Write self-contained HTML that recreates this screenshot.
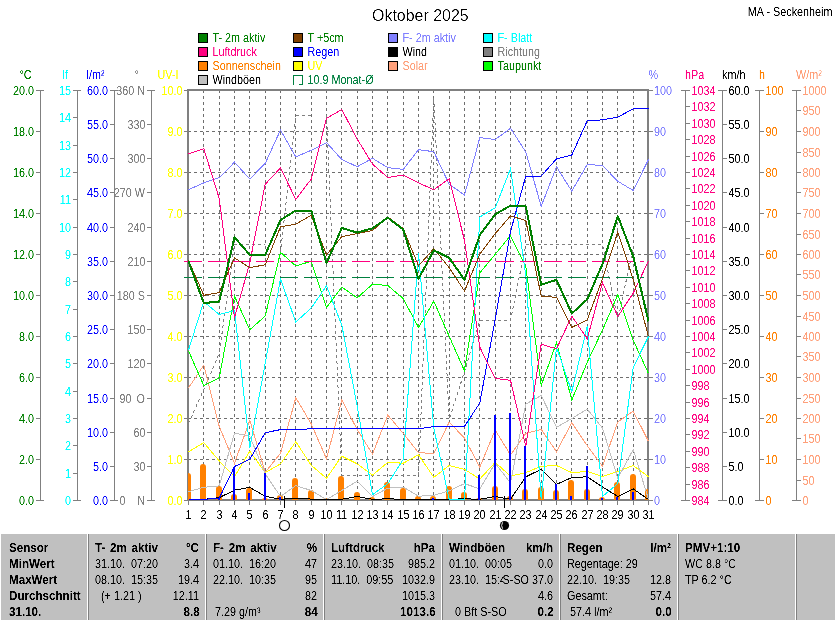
<!DOCTYPE html>
<html lang="de"><head><meta charset="utf-8"><title>Oktober 2025 - MA-Seckenheim</title>
<style>html,body{margin:0;padding:0;background:#fff;overflow:hidden}body{width:835px;height:620px;font-family:"Liberation Sans",sans-serif}svg text{font-family:"Liberation Sans",sans-serif;white-space:pre}</style>
</head><body>
<svg width="835" height="620" viewBox="0 0 835 620" font-family="'Liberation Sans', sans-serif" style="display:block">
<rect x="0" y="0" width="835" height="620" fill="#fff"/>
<rect x="198" y="33" width="10" height="10" fill="#000"/>
<rect x="199" y="34" width="8" height="8" fill="#008000"/>
<rect x="198" y="47" width="10" height="10" fill="#000"/>
<rect x="199" y="48" width="8" height="8" fill="#ff0080"/>
<rect x="198" y="61" width="10" height="10" fill="#000"/>
<rect x="199" y="62" width="8" height="8" fill="#ff8000"/>
<rect x="198" y="75" width="10" height="10" fill="#000"/>
<rect x="199" y="76" width="8" height="8" fill="#c0c0c0"/>
<rect x="293" y="33" width="10" height="10" fill="#000"/>
<rect x="294" y="34" width="8" height="8" fill="#804000"/>
<rect x="293" y="47" width="10" height="10" fill="#000"/>
<rect x="294" y="48" width="8" height="8" fill="#0000ff"/>
<rect x="293" y="61" width="10" height="10" fill="#000"/>
<rect x="294" y="62" width="8" height="8" fill="#ffff00"/>
<rect x="388" y="33" width="10" height="10" fill="#000"/>
<rect x="389" y="34" width="8" height="8" fill="#8080ff"/>
<rect x="388" y="47" width="10" height="10" fill="#000"/>
<rect x="389" y="48" width="8" height="8" fill="#000000"/>
<rect x="388" y="61" width="10" height="10" fill="#000"/>
<rect x="389" y="62" width="8" height="8" fill="#ffa07a"/>
<rect x="483" y="33" width="10" height="10" fill="#000"/>
<rect x="484" y="34" width="8" height="8" fill="#00ffff"/>
<rect x="483" y="47" width="10" height="10" fill="#000"/>
<rect x="484" y="48" width="8" height="8" fill="#808080"/>
<rect x="483" y="61" width="10" height="10" fill="#000"/>
<rect x="484" y="62" width="8" height="8" fill="#00ff00"/>
<rect x="293" y="75" width="10" height="1" fill="#008040"/>
<rect x="293" y="75" width="1" height="10" fill="#008040"/>
<rect x="302" y="75" width="1" height="10" fill="#008040"/>
<rect x="299" y="84" width="4" height="1" fill="#008040"/>
<rect x="40" y="90" width="1" height="411" fill="#808080"/>
<rect x="36" y="500" width="4" height="1" fill="#808080"/>
<rect x="36" y="459" width="4" height="1" fill="#808080"/>
<rect x="36" y="418" width="4" height="1" fill="#808080"/>
<rect x="36" y="377" width="4" height="1" fill="#808080"/>
<rect x="36" y="336" width="4" height="1" fill="#808080"/>
<rect x="36" y="295" width="4" height="1" fill="#808080"/>
<rect x="36" y="254" width="4" height="1" fill="#808080"/>
<rect x="36" y="213" width="4" height="1" fill="#808080"/>
<rect x="36" y="172" width="4" height="1" fill="#808080"/>
<rect x="36" y="131" width="4" height="1" fill="#808080"/>
<rect x="36" y="90" width="4" height="1" fill="#808080"/>
<rect x="36" y="90" width="8" height="1" fill="#808080"/>
<rect x="36" y="500" width="8" height="1" fill="#808080"/>
<rect x="77" y="90" width="1" height="411" fill="#808080"/>
<rect x="73" y="500" width="4" height="1" fill="#808080"/>
<rect x="73" y="473" width="4" height="1" fill="#808080"/>
<rect x="73" y="445" width="4" height="1" fill="#808080"/>
<rect x="73" y="418" width="4" height="1" fill="#808080"/>
<rect x="73" y="391" width="4" height="1" fill="#808080"/>
<rect x="73" y="363" width="4" height="1" fill="#808080"/>
<rect x="73" y="336" width="4" height="1" fill="#808080"/>
<rect x="73" y="309" width="4" height="1" fill="#808080"/>
<rect x="73" y="281" width="4" height="1" fill="#808080"/>
<rect x="73" y="254" width="4" height="1" fill="#808080"/>
<rect x="73" y="227" width="4" height="1" fill="#808080"/>
<rect x="73" y="199" width="4" height="1" fill="#808080"/>
<rect x="73" y="172" width="4" height="1" fill="#808080"/>
<rect x="73" y="145" width="4" height="1" fill="#808080"/>
<rect x="73" y="117" width="4" height="1" fill="#808080"/>
<rect x="73" y="90" width="4" height="1" fill="#808080"/>
<rect x="73" y="90" width="8" height="1" fill="#808080"/>
<rect x="73" y="500" width="8" height="1" fill="#808080"/>
<rect x="114" y="90" width="1" height="411" fill="#808080"/>
<rect x="110" y="500" width="4" height="1" fill="#808080"/>
<rect x="110" y="466" width="4" height="1" fill="#808080"/>
<rect x="110" y="432" width="4" height="1" fill="#808080"/>
<rect x="110" y="398" width="4" height="1" fill="#808080"/>
<rect x="110" y="363" width="4" height="1" fill="#808080"/>
<rect x="110" y="329" width="4" height="1" fill="#808080"/>
<rect x="110" y="295" width="4" height="1" fill="#808080"/>
<rect x="110" y="261" width="4" height="1" fill="#808080"/>
<rect x="110" y="227" width="4" height="1" fill="#808080"/>
<rect x="110" y="192" width="4" height="1" fill="#808080"/>
<rect x="110" y="158" width="4" height="1" fill="#808080"/>
<rect x="110" y="124" width="4" height="1" fill="#808080"/>
<rect x="110" y="90" width="4" height="1" fill="#808080"/>
<rect x="110" y="90" width="8" height="1" fill="#808080"/>
<rect x="110" y="500" width="8" height="1" fill="#808080"/>
<rect x="151" y="90" width="1" height="411" fill="#808080"/>
<rect x="147" y="500" width="4" height="1" fill="#808080"/>
<rect x="147" y="466" width="4" height="1" fill="#808080"/>
<rect x="147" y="432" width="4" height="1" fill="#808080"/>
<rect x="147" y="398" width="4" height="1" fill="#808080"/>
<rect x="147" y="363" width="4" height="1" fill="#808080"/>
<rect x="147" y="329" width="4" height="1" fill="#808080"/>
<rect x="147" y="295" width="4" height="1" fill="#808080"/>
<rect x="147" y="261" width="4" height="1" fill="#808080"/>
<rect x="147" y="227" width="4" height="1" fill="#808080"/>
<rect x="147" y="192" width="4" height="1" fill="#808080"/>
<rect x="147" y="158" width="4" height="1" fill="#808080"/>
<rect x="147" y="124" width="4" height="1" fill="#808080"/>
<rect x="147" y="90" width="4" height="1" fill="#808080"/>
<rect x="147" y="90" width="8" height="1" fill="#808080"/>
<rect x="147" y="500" width="8" height="1" fill="#808080"/>
<rect x="184" y="500" width="4" height="1" fill="#808080"/>
<rect x="184" y="459" width="4" height="1" fill="#808080"/>
<rect x="184" y="418" width="4" height="1" fill="#808080"/>
<rect x="184" y="377" width="4" height="1" fill="#808080"/>
<rect x="184" y="336" width="4" height="1" fill="#808080"/>
<rect x="184" y="295" width="4" height="1" fill="#808080"/>
<rect x="184" y="254" width="4" height="1" fill="#808080"/>
<rect x="184" y="213" width="4" height="1" fill="#808080"/>
<rect x="184" y="172" width="4" height="1" fill="#808080"/>
<rect x="184" y="131" width="4" height="1" fill="#808080"/>
<rect x="184" y="90" width="4" height="1" fill="#808080"/>
<rect x="649" y="500" width="4" height="1" fill="#808080"/>
<rect x="649" y="459" width="4" height="1" fill="#808080"/>
<rect x="649" y="418" width="4" height="1" fill="#808080"/>
<rect x="649" y="377" width="4" height="1" fill="#808080"/>
<rect x="649" y="336" width="4" height="1" fill="#808080"/>
<rect x="649" y="295" width="4" height="1" fill="#808080"/>
<rect x="649" y="254" width="4" height="1" fill="#808080"/>
<rect x="649" y="213" width="4" height="1" fill="#808080"/>
<rect x="649" y="172" width="4" height="1" fill="#808080"/>
<rect x="649" y="131" width="4" height="1" fill="#808080"/>
<rect x="649" y="90" width="4" height="1" fill="#808080"/>
<rect x="685" y="90" width="1" height="411" fill="#808080"/>
<rect x="686" y="500" width="4" height="1" fill="#808080"/>
<rect x="686" y="484" width="4" height="1" fill="#808080"/>
<rect x="686" y="467" width="4" height="1" fill="#808080"/>
<rect x="686" y="451" width="4" height="1" fill="#808080"/>
<rect x="686" y="434" width="4" height="1" fill="#808080"/>
<rect x="686" y="418" width="4" height="1" fill="#808080"/>
<rect x="686" y="402" width="4" height="1" fill="#808080"/>
<rect x="686" y="385" width="4" height="1" fill="#808080"/>
<rect x="686" y="369" width="4" height="1" fill="#808080"/>
<rect x="686" y="352" width="4" height="1" fill="#808080"/>
<rect x="686" y="336" width="4" height="1" fill="#808080"/>
<rect x="686" y="320" width="4" height="1" fill="#808080"/>
<rect x="686" y="303" width="4" height="1" fill="#808080"/>
<rect x="686" y="287" width="4" height="1" fill="#808080"/>
<rect x="686" y="270" width="4" height="1" fill="#808080"/>
<rect x="686" y="254" width="4" height="1" fill="#808080"/>
<rect x="686" y="238" width="4" height="1" fill="#808080"/>
<rect x="686" y="221" width="4" height="1" fill="#808080"/>
<rect x="686" y="205" width="4" height="1" fill="#808080"/>
<rect x="686" y="188" width="4" height="1" fill="#808080"/>
<rect x="686" y="172" width="4" height="1" fill="#808080"/>
<rect x="686" y="156" width="4" height="1" fill="#808080"/>
<rect x="686" y="139" width="4" height="1" fill="#808080"/>
<rect x="686" y="123" width="4" height="1" fill="#808080"/>
<rect x="686" y="106" width="4" height="1" fill="#808080"/>
<rect x="686" y="90" width="4" height="1" fill="#808080"/>
<rect x="681" y="90" width="8" height="1" fill="#808080"/>
<rect x="681" y="500" width="8" height="1" fill="#808080"/>
<rect x="722" y="90" width="1" height="411" fill="#808080"/>
<rect x="723" y="500" width="4" height="1" fill="#808080"/>
<rect x="723" y="466" width="4" height="1" fill="#808080"/>
<rect x="723" y="432" width="4" height="1" fill="#808080"/>
<rect x="723" y="398" width="4" height="1" fill="#808080"/>
<rect x="723" y="363" width="4" height="1" fill="#808080"/>
<rect x="723" y="329" width="4" height="1" fill="#808080"/>
<rect x="723" y="295" width="4" height="1" fill="#808080"/>
<rect x="723" y="261" width="4" height="1" fill="#808080"/>
<rect x="723" y="227" width="4" height="1" fill="#808080"/>
<rect x="723" y="192" width="4" height="1" fill="#808080"/>
<rect x="723" y="158" width="4" height="1" fill="#808080"/>
<rect x="723" y="124" width="4" height="1" fill="#808080"/>
<rect x="723" y="90" width="4" height="1" fill="#808080"/>
<rect x="718" y="90" width="8" height="1" fill="#808080"/>
<rect x="718" y="500" width="8" height="1" fill="#808080"/>
<rect x="759" y="90" width="1" height="411" fill="#808080"/>
<rect x="760" y="500" width="4" height="1" fill="#808080"/>
<rect x="760" y="459" width="4" height="1" fill="#808080"/>
<rect x="760" y="418" width="4" height="1" fill="#808080"/>
<rect x="760" y="377" width="4" height="1" fill="#808080"/>
<rect x="760" y="336" width="4" height="1" fill="#808080"/>
<rect x="760" y="295" width="4" height="1" fill="#808080"/>
<rect x="760" y="254" width="4" height="1" fill="#808080"/>
<rect x="760" y="213" width="4" height="1" fill="#808080"/>
<rect x="760" y="172" width="4" height="1" fill="#808080"/>
<rect x="760" y="131" width="4" height="1" fill="#808080"/>
<rect x="760" y="90" width="4" height="1" fill="#808080"/>
<rect x="755" y="90" width="8" height="1" fill="#808080"/>
<rect x="755" y="500" width="8" height="1" fill="#808080"/>
<rect x="796" y="90" width="1" height="411" fill="#808080"/>
<rect x="797" y="500" width="4" height="1" fill="#808080"/>
<rect x="797" y="480" width="4" height="1" fill="#808080"/>
<rect x="797" y="459" width="4" height="1" fill="#808080"/>
<rect x="797" y="438" width="4" height="1" fill="#808080"/>
<rect x="797" y="418" width="4" height="1" fill="#808080"/>
<rect x="797" y="398" width="4" height="1" fill="#808080"/>
<rect x="797" y="377" width="4" height="1" fill="#808080"/>
<rect x="797" y="356" width="4" height="1" fill="#808080"/>
<rect x="797" y="336" width="4" height="1" fill="#808080"/>
<rect x="797" y="316" width="4" height="1" fill="#808080"/>
<rect x="797" y="295" width="4" height="1" fill="#808080"/>
<rect x="797" y="274" width="4" height="1" fill="#808080"/>
<rect x="797" y="254" width="4" height="1" fill="#808080"/>
<rect x="797" y="234" width="4" height="1" fill="#808080"/>
<rect x="797" y="213" width="4" height="1" fill="#808080"/>
<rect x="797" y="192" width="4" height="1" fill="#808080"/>
<rect x="797" y="172" width="4" height="1" fill="#808080"/>
<rect x="797" y="152" width="4" height="1" fill="#808080"/>
<rect x="797" y="131" width="4" height="1" fill="#808080"/>
<rect x="797" y="110" width="4" height="1" fill="#808080"/>
<rect x="797" y="90" width="4" height="1" fill="#808080"/>
<rect x="792" y="90" width="8" height="1" fill="#808080"/>
<rect x="792" y="500" width="8" height="1" fill="#808080"/>
<g stroke="#6e6e6e" stroke-width="1" stroke-dasharray="3 3" shape-rendering="crispEdges">
<line x1="203.5" y1="90" x2="203.5" y2="499"/>
<line x1="219.5" y1="90" x2="219.5" y2="499"/>
<line x1="234.5" y1="90" x2="234.5" y2="499"/>
<line x1="249.5" y1="90" x2="249.5" y2="499"/>
<line x1="265.5" y1="90" x2="265.5" y2="499"/>
<line x1="280.5" y1="90" x2="280.5" y2="499"/>
<line x1="295.5" y1="90" x2="295.5" y2="499"/>
<line x1="311.5" y1="90" x2="311.5" y2="499"/>
<line x1="326.5" y1="90" x2="326.5" y2="499"/>
<line x1="341.5" y1="90" x2="341.5" y2="499"/>
<line x1="357.5" y1="90" x2="357.5" y2="499"/>
<line x1="372.5" y1="90" x2="372.5" y2="499"/>
<line x1="387.5" y1="90" x2="387.5" y2="499"/>
<line x1="403.5" y1="90" x2="403.5" y2="499"/>
<line x1="418.5" y1="90" x2="418.5" y2="499"/>
<line x1="433.5" y1="90" x2="433.5" y2="499"/>
<line x1="449.5" y1="90" x2="449.5" y2="499"/>
<line x1="464.5" y1="90" x2="464.5" y2="499"/>
<line x1="479.5" y1="90" x2="479.5" y2="499"/>
<line x1="495.5" y1="90" x2="495.5" y2="499"/>
<line x1="510.5" y1="90" x2="510.5" y2="499"/>
<line x1="525.5" y1="90" x2="525.5" y2="499"/>
<line x1="541.5" y1="90" x2="541.5" y2="499"/>
<line x1="556.5" y1="90" x2="556.5" y2="499"/>
<line x1="571.5" y1="90" x2="571.5" y2="499"/>
<line x1="587.5" y1="90" x2="587.5" y2="499"/>
<line x1="602.5" y1="90" x2="602.5" y2="499"/>
<line x1="617.5" y1="90" x2="617.5" y2="499"/>
<line x1="633.5" y1="90" x2="633.5" y2="499"/>
<line x1="188" y1="131.5" x2="647" y2="131.5"/>
<line x1="188" y1="172.5" x2="647" y2="172.5"/>
<line x1="188" y1="213.5" x2="647" y2="213.5"/>
<line x1="188" y1="254.5" x2="647" y2="254.5"/>
<line x1="188" y1="295.5" x2="647" y2="295.5"/>
<line x1="188" y1="336.5" x2="647" y2="336.5"/>
<line x1="188" y1="377.5" x2="647" y2="377.5"/>
<line x1="188" y1="418.5" x2="647" y2="418.5"/>
<line x1="188" y1="459.5" x2="647" y2="459.5"/>
</g>
<rect x="187" y="89" width="462" height="2" fill="#808080"/>
<rect x="187" y="89" width="2" height="412" fill="#808080"/>
<rect x="647" y="89" width="2" height="412" fill="#808080"/>
<rect x="187" y="499" width="462" height="2" fill="#808080"/>
<rect x="188" y="501" width="1" height="4" fill="#808080"/>
<rect x="203" y="501" width="1" height="4" fill="#808080"/>
<rect x="219" y="501" width="1" height="4" fill="#808080"/>
<rect x="234" y="501" width="1" height="4" fill="#808080"/>
<rect x="249" y="501" width="1" height="4" fill="#808080"/>
<rect x="265" y="501" width="1" height="4" fill="#808080"/>
<rect x="280" y="501" width="1" height="4" fill="#808080"/>
<rect x="295" y="501" width="1" height="4" fill="#808080"/>
<rect x="311" y="501" width="1" height="4" fill="#808080"/>
<rect x="326" y="501" width="1" height="4" fill="#808080"/>
<rect x="341" y="501" width="1" height="4" fill="#808080"/>
<rect x="357" y="501" width="1" height="4" fill="#808080"/>
<rect x="372" y="501" width="1" height="4" fill="#808080"/>
<rect x="387" y="501" width="1" height="4" fill="#808080"/>
<rect x="403" y="501" width="1" height="4" fill="#808080"/>
<rect x="418" y="501" width="1" height="4" fill="#808080"/>
<rect x="433" y="501" width="1" height="4" fill="#808080"/>
<rect x="449" y="501" width="1" height="4" fill="#808080"/>
<rect x="464" y="501" width="1" height="4" fill="#808080"/>
<rect x="479" y="501" width="1" height="4" fill="#808080"/>
<rect x="495" y="501" width="1" height="4" fill="#808080"/>
<rect x="510" y="501" width="1" height="4" fill="#808080"/>
<rect x="525" y="501" width="1" height="4" fill="#808080"/>
<rect x="541" y="501" width="1" height="4" fill="#808080"/>
<rect x="556" y="501" width="1" height="4" fill="#808080"/>
<rect x="571" y="501" width="1" height="4" fill="#808080"/>
<rect x="587" y="501" width="1" height="4" fill="#808080"/>
<rect x="602" y="501" width="1" height="4" fill="#808080"/>
<rect x="617" y="501" width="1" height="4" fill="#808080"/>
<rect x="633" y="501" width="1" height="4" fill="#808080"/>
<rect x="648" y="501" width="1" height="4" fill="#808080"/>
<polyline points="188.5,423.5 203.8,389.5 219.2,353.5 234.5,244.9 249.8,244.9 265.2,244.9" fill="none" stroke="#808080" stroke-width="1" shape-rendering="crispEdges" stroke-dasharray="3 3"/>
<polyline points="280.5,252.5 295.8,115.5 311.2,115.5" fill="none" stroke="#808080" stroke-width="1" shape-rendering="crispEdges" stroke-dasharray="3 3"/>
<polyline points="326.5,115.5 341.8,475.8 357.2,475.8 372.5,475.8 387.8,475.8 403.2,475.8 418.5,475.8 433.8,97.5 449.2,419.5 464.5,371.5 479.8,320.4 495.2,320.4 510.5,320.4 525.8,244.9 541.2,244.9 556.5,244.9 571.8,244.9 587.2,244.9 602.5,244.9 617.8,320.0 633.2,247.9" fill="none" stroke="#808080" stroke-width="1" shape-rendering="crispEdges" stroke-dasharray="3 3"/>
<path d="M188,500 V476 Q188,473 188,473 Q191,473 191,476 V500 Z" fill="#ff8000"/>
<path d="M200,500 V467 Q200,464 203,464 Q206,464 206,467 V500 Z" fill="#ff8000"/>
<path d="M216,500 V489 Q216,486 219,486 Q222,486 222,489 V500 Z" fill="#ff8000"/>
<path d="M231,500 V497 Q231,494 234,494 Q237,494 237,497 V500 Z" fill="#ff8000"/>
<path d="M246,500 V491 Q246,488 249,488 Q252,488 252,491 V500 Z" fill="#ff8000"/>
<path d="M262,500 V500 Q262,498 265,498 Q268,498 268,500 V500 Z" fill="#ff8000"/>
<path d="M277,500 V498 Q277,495 280,495 Q283,495 283,498 V500 Z" fill="#ff8000"/>
<path d="M292,500 V481 Q292,478 295,478 Q298,478 298,481 V500 Z" fill="#ff8000"/>
<path d="M308,500 V493 Q308,490 311,490 Q314,490 314,493 V500 Z" fill="#ff8000"/>
<path d="M323,500 V500 Q323,498 326,498 Q329,498 329,500 V500 Z" fill="#ff8000"/>
<path d="M338,500 V479 Q338,476 341,476 Q344,476 344,479 V500 Z" fill="#ff8000"/>
<path d="M354,500 V495 Q354,492 357,492 Q360,492 360,495 V500 Z" fill="#ff8000"/>
<path d="M369,500 V500 Q369,497 372,497 Q375,497 375,500 V500 Z" fill="#ff8000"/>
<path d="M384,500 V485 Q384,482 387,482 Q390,482 390,485 V500 Z" fill="#ff8000"/>
<path d="M400,500 V491 Q400,488 403,488 Q406,488 406,491 V500 Z" fill="#ff8000"/>
<path d="M415,500 V499 Q415,496 418,496 Q421,496 421,499 V500 Z" fill="#ff8000"/>
<path d="M430,500 V499 Q430,496 433,496 Q436,496 436,499 V500 Z" fill="#ff8000"/>
<path d="M446,500 V489 Q446,486 449,486 Q452,486 452,489 V500 Z" fill="#ff8000"/>
<path d="M461,500 V495 Q461,492 464,492 Q467,492 467,495 V500 Z" fill="#ff8000"/>
<path d="M476,500 V500 Q476,498 479,498 Q482,498 482,500 V500 Z" fill="#ff8000"/>
<path d="M492,500 V489 Q492,486 495,486 Q498,486 498,489 V500 Z" fill="#ff8000"/>
<path d="M507,500 V499 Q507,496 510,496 Q513,496 513,499 V500 Z" fill="#ff8000"/>
<path d="M522,500 V492 Q522,489 525,489 Q528,489 528,492 V500 Z" fill="#ff8000"/>
<path d="M538,500 V490 Q538,487 541,487 Q544,487 544,490 V500 Z" fill="#ff8000"/>
<path d="M553,500 V493 Q553,490 556,490 Q559,490 559,493 V500 Z" fill="#ff8000"/>
<path d="M568,500 V483 Q568,480 571,480 Q574,480 574,483 V500 Z" fill="#ff8000"/>
<path d="M584,500 V492 Q584,489 587,489 Q590,489 590,492 V500 Z" fill="#ff8000"/>
<path d="M599,500 V500 Q599,497 602,497 Q605,497 605,500 V500 Z" fill="#ff8000"/>
<path d="M614,500 V485 Q614,482 617,482 Q620,482 620,485 V500 Z" fill="#ff8000"/>
<path d="M630,500 V477 Q630,474 633,474 Q636,474 636,477 V500 Z" fill="#ff8000"/>
<path d="M645,500 V492 Q645,489 648,489 Q648,489 648,492 V500 Z" fill="#ff8000"/>
<polyline points="188.5,387.9 203.8,365.1 219.2,426.3 234.5,463.2 249.8,420.3 265.2,472.3 280.5,453.3 295.8,397.7 311.2,423.8 326.5,458.9 341.8,400.0 357.2,429.5 372.5,454.1 387.8,415.1 403.2,433.3 418.5,452.6 433.8,453.6 449.2,422.1 464.5,438.1 479.8,467.0 495.2,430.1 510.5,454.9 525.8,433.5 541.2,429.4 556.5,451.7 571.8,422.7 587.2,445.6 602.5,466.2 617.8,422.0 633.2,411.1 648.5,441.5" fill="none" stroke="#ffa07a" stroke-width="1" shape-rendering="crispEdges"/>
<polyline points="188.5,451.8 203.8,442.7 219.2,460.9 234.5,476.8 249.8,451.3 265.2,472.6 280.5,463.9 295.8,441.7 311.2,465.3 326.5,478.3 341.8,456.1 357.2,463.9 372.5,475.0 387.8,462.4 403.2,463.2 418.5,454.8 433.8,477.3 449.2,465.5 464.5,469.3 479.8,479.1 495.2,462.4 510.5,476.1 525.8,472.6 541.2,466.3 556.5,465.5 571.8,472.6 587.2,471.5 602.5,476.5 617.8,471.5 633.2,465.5 648.5,476.8" fill="none" stroke="#ffff00" stroke-width="1" shape-rendering="crispEdges"/>
<polyline points="188.5,491.7 203.8,487.3 219.2,485.9 234.5,433.1 249.8,436.3 265.2,473.8 280.5,496.5 295.8,485.6 311.2,490.5 326.5,499.5 341.8,490.5 357.2,481.1 372.5,496.5 387.8,488.2 403.2,487.1 418.5,496.2 433.8,495.3 449.2,490.8 464.5,483.6 479.8,488.9 495.2,463.2 510.5,482.9 525.8,404.1 541.2,395.5 556.5,427.3 571.8,418.6 587.2,409.1 602.5,428.0 617.8,478.3 633.2,449.5 648.5,499.3" fill="none" stroke="#c0c0c0" stroke-width="1" shape-rendering="crispEdges"/>
<polyline points="188.5,499.3 203.8,499.3 219.2,497.7 234.5,490.1 249.8,487.4 265.2,496.2 280.5,499.3 295.8,498.0 311.2,499.1 326.5,499.8 341.8,499.3 357.2,496.5 372.5,499.3 387.8,498.8 403.2,499.3 418.5,499.3 433.8,499.3 449.2,499.3 464.5,498.8 479.8,499.3 495.2,496.5 510.5,499.3 525.8,476.8 541.2,469.3 556.5,484.3 571.8,477.6 587.2,476.8 602.5,486.9 617.8,496.5 633.2,488.9 648.5,499.5" fill="none" stroke="#000" stroke-width="1" shape-rendering="crispEdges"/>
<rect x="218" y="498" width="2" height="2" fill="#0000ff"/>
<rect x="233" y="468" width="2" height="32" fill="#0000ff"/>
<rect x="248" y="493" width="2" height="7" fill="#0000ff"/>
<rect x="264" y="473" width="2" height="27" fill="#0000ff"/>
<rect x="279" y="497" width="2" height="3" fill="#0000ff"/>
<rect x="432" y="498" width="2" height="2" fill="#0000ff"/>
<rect x="478" y="475" width="2" height="25" fill="#0000ff"/>
<rect x="494" y="415" width="2" height="85" fill="#0000ff"/>
<rect x="509" y="413" width="2" height="87" fill="#0000ff"/>
<rect x="524" y="446" width="2" height="54" fill="#0000ff"/>
<rect x="555" y="484" width="2" height="16" fill="#0000ff"/>
<rect x="570" y="496" width="2" height="4" fill="#0000ff"/>
<rect x="586" y="466" width="2" height="34" fill="#0000ff"/>
<rect x="601" y="498" width="2" height="2" fill="#0000ff"/>
<rect x="616" y="497" width="2" height="3" fill="#0000ff"/>
<rect x="632" y="492" width="2" height="8" fill="#0000ff"/>
<polyline points="188.5,350.9 203.8,385.6 219.2,378.0 234.5,296.3 249.8,329.7 265.2,316.1 280.5,252.3 295.8,265.9 311.2,261.3 326.5,307.4 341.8,287.0 357.2,297.9 372.5,284.2 387.8,285.5 403.2,298.6 418.5,327.4 433.8,301.3 449.2,336.3 464.5,370.8 479.8,272.9 495.2,254.3 510.5,235.6 525.8,266.3 541.2,385.6 556.5,342.6 571.8,400.0 587.2,362.3 602.5,330.0 617.8,294.8 633.2,340.2 648.5,373.5" fill="none" stroke="#00ff00" stroke-width="1" shape-rendering="crispEdges"/>
<polyline points="188.5,350.1 203.8,301.6 219.2,314.5 234.5,310.5 249.8,448.0 265.2,363.3 280.5,278.9 295.8,322.1 311.2,308.1 326.5,285.8 341.8,325.2 357.2,406.1 372.5,494.7 387.8,483.6 403.2,459.4 418.5,253.3 433.8,428.3 449.2,499.3 464.5,499.3 479.8,217.0 495.2,207.9 510.5,168.7 525.8,275.3 541.2,499.3 556.5,347.1 571.8,391.7 587.2,326.4 602.5,496.5 617.8,483.6 633.2,367.4 648.5,336.5" fill="none" stroke="#00ffff" stroke-width="1" shape-rendering="crispEdges"/>
<polyline points="188.5,189.7 203.8,182.9 219.2,177.6 234.5,162.2 249.8,179.0 265.2,163.4 280.5,130.0 295.8,156.9 311.2,150.3 326.5,142.6 341.8,159.5 357.2,166.7 372.5,158.3 387.8,167.6 403.2,169.4 418.5,149.7 433.8,151.7 449.2,184.3 464.5,195.0 479.8,137.6 495.2,139.6 510.5,128.2 525.8,152.0 541.2,206.3 556.5,166.8 571.8,191.2 587.2,164.4 602.5,165.6 617.8,181.3 633.2,190.5 648.5,159.5" fill="none" stroke="#8080ff" stroke-width="1" shape-rendering="crispEdges"/>
<polyline points="188.5,499.3 203.8,499.3 219.2,498.3 234.5,466.5 249.8,459.3 265.2,432.7 280.5,429.6 295.8,429.6 311.2,428.8 326.5,428.8 341.8,428.8 357.2,428.8 372.5,428.8 387.8,428.8 403.2,428.8 418.5,428.8 433.8,426.6 449.2,426.3 464.5,426.3 479.8,403.0 495.2,319.3 510.5,231.6 525.8,176.0 541.2,176.0 556.5,158.8 571.8,155.0 587.2,120.9 602.5,119.8 617.8,117.1 633.2,108.8 648.5,108.8" fill="none" stroke="#0000ff" stroke-width="1" shape-rendering="crispEdges"/>
<polyline points="188.5,153.8 203.8,148.7 219.2,198.3 234.5,317.5 249.8,262.8 265.2,184.3 280.5,167.9 295.8,199.5 311.2,179.1 326.5,118.3 341.8,109.5 357.2,139.1 372.5,164.1 387.8,177.5 403.2,175.0 418.5,182.9 433.8,189.7 449.2,178.8 464.5,240.5 479.8,347.1 495.2,378.5 510.5,380.3 525.8,446.3 541.2,344.3 556.5,348.8 571.8,316.1 587.2,338.8 602.5,282.7 617.8,316.5 633.2,293.3 648.5,260.9" fill="none" stroke="#ff0080" stroke-width="1" shape-rendering="crispEdges"/>
<line x1="184" y1="261.5" x2="644" y2="261.5" stroke="#ff0080" stroke-width="1" stroke-dasharray="18 6" shape-rendering="crispEdges"/>
<line x1="184" y1="277.5" x2="644" y2="277.5" stroke="#008040" stroke-width="1" stroke-dasharray="18 6" shape-rendering="crispEdges"/>
<polyline points="188.5,260.3 203.8,295.3 219.2,292.6 234.5,257.9 249.8,267.7 265.2,264.7 280.5,226.8 295.8,224.1 311.2,215.3 326.5,254.8 341.8,236.7 357.2,233.6 372.5,230.6 387.8,217.0 403.2,228.6 418.5,265.9 433.8,248.6 449.2,267.7 464.5,291.1 479.8,254.1 495.2,233.6 510.5,215.9 525.8,220.5 541.2,296.3 556.5,297.3 571.8,327.4 587.2,319.8 602.5,278.8 617.8,232.1 633.2,279.3 648.5,336.5" fill="none" stroke="#804000" stroke-width="1" shape-rendering="crispEdges"/>
<polyline points="188.5,261.3 203.8,303.1 219.2,301.5 234.5,237.4 249.8,254.8 265.2,254.8 280.5,220.0 295.8,210.5 311.2,210.5 326.5,263.2 341.8,228.0 357.2,232.6 372.5,228.3 387.8,217.7 403.2,229.5 418.5,278.9 433.8,250.3 449.2,257.9 464.5,279.7 479.8,235.1 495.2,214.4 510.5,205.6 525.8,206.5 541.2,284.7 556.5,279.9 571.8,313.5 587.2,299.4 602.5,264.1 617.8,216.2 633.2,256.3 648.5,321.3" fill="none" stroke="#008000" stroke-width="2" shape-rendering="crispEdges" stroke-linejoin="round"/>
<rect x="284" y="496" width="1" height="12" fill="#000"/>
<circle cx="284.5" cy="525.5" r="5" fill="#fff" stroke="#000" stroke-width="1.1"/>
<rect x="504" y="496" width="1" height="12" fill="#000"/>
<circle cx="504.5" cy="525.5" r="4.6" fill="#000"/>
<path d="M502.6,522.3 Q500.6,525.5 502.6,528.7" fill="none" stroke="#fff" stroke-width="0.9"/>
<rect x="1" y="534" width="834" height="86" fill="#c0c0c0"/>
<rect x="87" y="534" width="1" height="86" fill="#fff"/>
<rect x="88" y="534" width="1" height="86" fill="#808080"/>
<rect x="205" y="534" width="1" height="86" fill="#fff"/>
<rect x="206" y="534" width="1" height="86" fill="#808080"/>
<rect x="323" y="534" width="1" height="86" fill="#fff"/>
<rect x="324" y="534" width="1" height="86" fill="#808080"/>
<rect x="441" y="534" width="1" height="86" fill="#fff"/>
<rect x="442" y="534" width="1" height="86" fill="#808080"/>
<rect x="559" y="534" width="1" height="86" fill="#fff"/>
<rect x="560" y="534" width="1" height="86" fill="#808080"/>
<rect x="677" y="534" width="1" height="86" fill="#fff"/>
<rect x="678" y="534" width="1" height="86" fill="#808080"/>
<rect x="795" y="534" width="1" height="86" fill="#fff"/>
<rect x="796" y="534" width="1" height="86" fill="#808080"/>
<defs><filter id="tf" filterUnits="userSpaceOnUse" x="0" y="0" width="835" height="620" color-interpolation-filters="sRGB"><feComponentTransfer><feFuncA type="linear" slope="2.2" intercept="-0.55"/></feComponentTransfer></filter><clipPath id="cl" clipPathUnits="userSpaceOnUse"><rect x="0" y="-20" width="62.5" height="30"/></clipPath></defs>
<defs><filter id="tt" filterUnits="userSpaceOnUse" x="300" y="0" width="250" height="30" color-interpolation-filters="sRGB"><feComponentTransfer><feFuncA type="linear" slope="2.2" intercept="-0.8"/></feComponentTransfer></filter></defs>
<g filter="url(#tt)"><text transform="translate(372.00,21.00) scale(0.95,1)" font-size="16.8" fill="#000">Oktober 2025</text></g>
<g filter="url(#tf)">
<text transform="translate(832.50,16.00) scale(0.865,1)" font-size="12.5" fill="#000" text-anchor="end">MA - Seckenheim</text>
<text transform="translate(212.50,42.00) scale(0.865,1)" font-size="12.5" fill="#008000">T- 2m aktiv</text>
<text transform="translate(212.50,56.00) scale(0.865,1)" font-size="12.5" fill="#ff0080">Luftdruck</text>
<text transform="translate(212.50,70.00) scale(0.865,1)" font-size="12.5" fill="#ff8000">Sonnenschein</text>
<text transform="translate(212.50,84.00) scale(0.865,1)" font-size="12.5" fill="#000">Windböen</text>
<text transform="translate(307.50,42.00) scale(0.865,1)" font-size="12.5" fill="#008000">T +5cm</text>
<text transform="translate(307.50,56.00) scale(0.865,1)" font-size="12.5" fill="#0000ff">Regen</text>
<text transform="translate(307.50,70.00) scale(0.865,1)" font-size="12.5" fill="#ffff00">UV</text>
<text transform="translate(402.50,42.00) scale(0.865,1)" font-size="12.5" fill="#8080ff">F- 2m aktiv</text>
<text transform="translate(402.50,56.00) scale(0.865,1)" font-size="12.5" fill="#000">Wind</text>
<text transform="translate(402.50,70.00) scale(0.865,1)" font-size="12.5" fill="#ffa07a">Solar</text>
<text transform="translate(497.50,42.00) scale(0.865,1)" font-size="12.5" fill="#00ffff">F- Blatt</text>
<text transform="translate(497.50,56.00) scale(0.865,1)" font-size="12.5" fill="#808080">Richtung</text>
<text transform="translate(497.50,70.00) scale(0.865,1)" font-size="12.5" fill="#008000">Taupunkt</text>
<text transform="translate(307.50,84.00) scale(0.865,1)" font-size="12.5" fill="#008040">10.9 Monat-Ø</text>
<text transform="translate(34.00,504.50) scale(0.865,1)" font-size="12.5" fill="#008000" text-anchor="end">0.0</text>
<text transform="translate(34.00,463.50) scale(0.865,1)" font-size="12.5" fill="#008000" text-anchor="end">2.0</text>
<text transform="translate(34.00,422.50) scale(0.865,1)" font-size="12.5" fill="#008000" text-anchor="end">4.0</text>
<text transform="translate(34.00,381.50) scale(0.865,1)" font-size="12.5" fill="#008000" text-anchor="end">6.0</text>
<text transform="translate(34.00,340.50) scale(0.865,1)" font-size="12.5" fill="#008000" text-anchor="end">8.0</text>
<text transform="translate(34.00,299.50) scale(0.865,1)" font-size="12.5" fill="#008000" text-anchor="end">10.0</text>
<text transform="translate(34.00,258.50) scale(0.865,1)" font-size="12.5" fill="#008000" text-anchor="end">12.0</text>
<text transform="translate(34.00,217.50) scale(0.865,1)" font-size="12.5" fill="#008000" text-anchor="end">14.0</text>
<text transform="translate(34.00,176.50) scale(0.865,1)" font-size="12.5" fill="#008000" text-anchor="end">16.0</text>
<text transform="translate(34.00,135.50) scale(0.865,1)" font-size="12.5" fill="#008000" text-anchor="end">18.0</text>
<text transform="translate(34.00,94.50) scale(0.865,1)" font-size="12.5" fill="#008000" text-anchor="end">20.0</text>
<text transform="translate(19.50,79.00) scale(0.865,1)" font-size="12.5" fill="#008000">°C</text>
<text transform="translate(71.00,504.50) scale(0.865,1)" font-size="12.5" fill="#00ffff" text-anchor="end">0</text>
<text transform="translate(71.00,477.50) scale(0.865,1)" font-size="12.5" fill="#00ffff" text-anchor="end">1</text>
<text transform="translate(71.00,449.50) scale(0.865,1)" font-size="12.5" fill="#00ffff" text-anchor="end">2</text>
<text transform="translate(71.00,422.50) scale(0.865,1)" font-size="12.5" fill="#00ffff" text-anchor="end">3</text>
<text transform="translate(71.00,395.50) scale(0.865,1)" font-size="12.5" fill="#00ffff" text-anchor="end">4</text>
<text transform="translate(71.00,367.50) scale(0.865,1)" font-size="12.5" fill="#00ffff" text-anchor="end">5</text>
<text transform="translate(71.00,340.50) scale(0.865,1)" font-size="12.5" fill="#00ffff" text-anchor="end">6</text>
<text transform="translate(71.00,313.50) scale(0.865,1)" font-size="12.5" fill="#00ffff" text-anchor="end">7</text>
<text transform="translate(71.00,285.50) scale(0.865,1)" font-size="12.5" fill="#00ffff" text-anchor="end">8</text>
<text transform="translate(71.00,258.50) scale(0.865,1)" font-size="12.5" fill="#00ffff" text-anchor="end">9</text>
<text transform="translate(71.00,231.50) scale(0.865,1)" font-size="12.5" fill="#00ffff" text-anchor="end">10</text>
<text transform="translate(71.00,203.50) scale(0.865,1)" font-size="12.5" fill="#00ffff" text-anchor="end">11</text>
<text transform="translate(71.00,176.50) scale(0.865,1)" font-size="12.5" fill="#00ffff" text-anchor="end">12</text>
<text transform="translate(71.00,149.50) scale(0.865,1)" font-size="12.5" fill="#00ffff" text-anchor="end">13</text>
<text transform="translate(71.00,121.50) scale(0.865,1)" font-size="12.5" fill="#00ffff" text-anchor="end">14</text>
<text transform="translate(71.00,94.50) scale(0.865,1)" font-size="12.5" fill="#00ffff" text-anchor="end">15</text>
<text transform="translate(62.50,79.00) scale(0.865,1)" font-size="12.5" fill="#00ffff">lf</text>
<text transform="translate(108.00,504.50) scale(0.865,1)" font-size="12.5" fill="#0000ff" text-anchor="end">0.0</text>
<text transform="translate(108.00,470.50) scale(0.865,1)" font-size="12.5" fill="#0000ff" text-anchor="end">5.0</text>
<text transform="translate(108.00,436.50) scale(0.865,1)" font-size="12.5" fill="#0000ff" text-anchor="end">10.0</text>
<text transform="translate(108.00,402.50) scale(0.865,1)" font-size="12.5" fill="#0000ff" text-anchor="end">15.0</text>
<text transform="translate(108.00,367.50) scale(0.865,1)" font-size="12.5" fill="#0000ff" text-anchor="end">20.0</text>
<text transform="translate(108.00,333.50) scale(0.865,1)" font-size="12.5" fill="#0000ff" text-anchor="end">25.0</text>
<text transform="translate(108.00,299.50) scale(0.865,1)" font-size="12.5" fill="#0000ff" text-anchor="end">30.0</text>
<text transform="translate(108.00,265.50) scale(0.865,1)" font-size="12.5" fill="#0000ff" text-anchor="end">35.0</text>
<text transform="translate(108.00,231.50) scale(0.865,1)" font-size="12.5" fill="#0000ff" text-anchor="end">40.0</text>
<text transform="translate(108.00,196.50) scale(0.865,1)" font-size="12.5" fill="#0000ff" text-anchor="end">45.0</text>
<text transform="translate(108.00,162.50) scale(0.865,1)" font-size="12.5" fill="#0000ff" text-anchor="end">50.0</text>
<text transform="translate(108.00,128.50) scale(0.865,1)" font-size="12.5" fill="#0000ff" text-anchor="end">55.0</text>
<text transform="translate(108.00,94.50) scale(0.865,1)" font-size="12.5" fill="#0000ff" text-anchor="end">60.0</text>
<text transform="translate(86.50,79.00) scale(0.865,1)" font-size="12.5" fill="#0000ff">l/m²</text>
<text transform="translate(119.50,504.50) scale(0.865,1)" font-size="12.5" fill="#808080">0</text>
<text transform="translate(145.00,504.50) scale(0.865,1)" font-size="12.5" fill="#808080" text-anchor="end">N</text>
<text transform="translate(145.50,470.50) scale(0.865,1)" font-size="12.5" fill="#808080" text-anchor="end">30</text>
<text transform="translate(145.50,436.50) scale(0.865,1)" font-size="12.5" fill="#808080" text-anchor="end">60</text>
<text transform="translate(119.50,402.50) scale(0.865,1)" font-size="12.5" fill="#808080">90</text>
<text transform="translate(145.00,402.50) scale(0.865,1)" font-size="12.5" fill="#808080" text-anchor="end">O</text>
<text transform="translate(145.50,367.50) scale(0.865,1)" font-size="12.5" fill="#808080" text-anchor="end">120</text>
<text transform="translate(145.50,333.50) scale(0.865,1)" font-size="12.5" fill="#808080" text-anchor="end">150</text>
<text transform="translate(145.00,299.50) scale(0.865,1)" font-size="12.5" fill="#808080" text-anchor="end">180 S</text>
<text transform="translate(145.50,265.50) scale(0.865,1)" font-size="12.5" fill="#808080" text-anchor="end">210</text>
<text transform="translate(145.50,231.50) scale(0.865,1)" font-size="12.5" fill="#808080" text-anchor="end">240</text>
<text transform="translate(145.00,196.50) scale(0.865,1)" font-size="12.5" fill="#808080" text-anchor="end">270 W</text>
<text transform="translate(145.50,162.50) scale(0.865,1)" font-size="12.5" fill="#808080" text-anchor="end">300</text>
<text transform="translate(145.50,128.50) scale(0.865,1)" font-size="12.5" fill="#808080" text-anchor="end">330</text>
<text transform="translate(145.00,94.50) scale(0.865,1)" font-size="12.5" fill="#808080" text-anchor="end">360 N</text>
<text transform="translate(134.50,79.00) scale(0.865,1)" font-size="12.5" fill="#808080">°</text>
<text transform="translate(182.50,504.50) scale(0.865,1)" font-size="12.5" fill="#ffff00" text-anchor="end">0.0</text>
<text transform="translate(182.50,463.50) scale(0.865,1)" font-size="12.5" fill="#ffff00" text-anchor="end">1.0</text>
<text transform="translate(182.50,422.50) scale(0.865,1)" font-size="12.5" fill="#ffff00" text-anchor="end">2.0</text>
<text transform="translate(182.50,381.50) scale(0.865,1)" font-size="12.5" fill="#ffff00" text-anchor="end">3.0</text>
<text transform="translate(182.50,340.50) scale(0.865,1)" font-size="12.5" fill="#ffff00" text-anchor="end">4.0</text>
<text transform="translate(182.50,299.50) scale(0.865,1)" font-size="12.5" fill="#ffff00" text-anchor="end">5.0</text>
<text transform="translate(182.50,258.50) scale(0.865,1)" font-size="12.5" fill="#ffff00" text-anchor="end">6.0</text>
<text transform="translate(182.50,217.50) scale(0.865,1)" font-size="12.5" fill="#ffff00" text-anchor="end">7.0</text>
<text transform="translate(182.50,176.50) scale(0.865,1)" font-size="12.5" fill="#ffff00" text-anchor="end">8.0</text>
<text transform="translate(182.50,135.50) scale(0.865,1)" font-size="12.5" fill="#ffff00" text-anchor="end">9.0</text>
<text transform="translate(182.50,94.50) scale(0.865,1)" font-size="12.5" fill="#ffff00" text-anchor="end">10.0</text>
<text transform="translate(157.50,79.00) scale(0.865,1)" font-size="12.5" fill="#ffff00">UV-I</text>
<text transform="translate(654.00,504.50) scale(0.865,1)" font-size="12.5" fill="#8080ff">0</text>
<text transform="translate(654.00,463.50) scale(0.865,1)" font-size="12.5" fill="#8080ff">10</text>
<text transform="translate(654.00,422.50) scale(0.865,1)" font-size="12.5" fill="#8080ff">20</text>
<text transform="translate(654.00,381.50) scale(0.865,1)" font-size="12.5" fill="#8080ff">30</text>
<text transform="translate(654.00,340.50) scale(0.865,1)" font-size="12.5" fill="#8080ff">40</text>
<text transform="translate(654.00,299.50) scale(0.865,1)" font-size="12.5" fill="#8080ff">50</text>
<text transform="translate(654.00,258.50) scale(0.865,1)" font-size="12.5" fill="#8080ff">60</text>
<text transform="translate(654.00,217.50) scale(0.865,1)" font-size="12.5" fill="#8080ff">70</text>
<text transform="translate(654.00,176.50) scale(0.865,1)" font-size="12.5" fill="#8080ff">80</text>
<text transform="translate(654.00,135.50) scale(0.865,1)" font-size="12.5" fill="#8080ff">90</text>
<text transform="translate(654.00,94.50) scale(0.865,1)" font-size="12.5" fill="#8080ff">100</text>
<text transform="translate(648.50,79.00) scale(0.865,1)" font-size="12.5" fill="#8080ff">%</text>
<text transform="translate(691.50,504.50) scale(0.865,1)" font-size="12.5" fill="#ff0080">984</text>
<text transform="translate(691.50,488.50) scale(0.865,1)" font-size="12.5" fill="#ff0080">986</text>
<text transform="translate(691.50,471.50) scale(0.865,1)" font-size="12.5" fill="#ff0080">988</text>
<text transform="translate(691.50,455.50) scale(0.865,1)" font-size="12.5" fill="#ff0080">990</text>
<text transform="translate(691.50,438.50) scale(0.865,1)" font-size="12.5" fill="#ff0080">992</text>
<text transform="translate(691.50,422.50) scale(0.865,1)" font-size="12.5" fill="#ff0080">994</text>
<text transform="translate(691.50,406.50) scale(0.865,1)" font-size="12.5" fill="#ff0080">996</text>
<text transform="translate(691.50,389.50) scale(0.865,1)" font-size="12.5" fill="#ff0080">998</text>
<text transform="translate(691.50,373.50) scale(0.865,1)" font-size="12.5" fill="#ff0080">1000</text>
<text transform="translate(691.50,356.50) scale(0.865,1)" font-size="12.5" fill="#ff0080">1002</text>
<text transform="translate(691.50,340.50) scale(0.865,1)" font-size="12.5" fill="#ff0080">1004</text>
<text transform="translate(691.50,324.50) scale(0.865,1)" font-size="12.5" fill="#ff0080">1006</text>
<text transform="translate(691.50,307.50) scale(0.865,1)" font-size="12.5" fill="#ff0080">1008</text>
<text transform="translate(691.50,291.50) scale(0.865,1)" font-size="12.5" fill="#ff0080">1010</text>
<text transform="translate(691.50,274.50) scale(0.865,1)" font-size="12.5" fill="#ff0080">1012</text>
<text transform="translate(691.50,258.50) scale(0.865,1)" font-size="12.5" fill="#ff0080">1014</text>
<text transform="translate(691.50,242.50) scale(0.865,1)" font-size="12.5" fill="#ff0080">1016</text>
<text transform="translate(691.50,225.50) scale(0.865,1)" font-size="12.5" fill="#ff0080">1018</text>
<text transform="translate(691.50,209.50) scale(0.865,1)" font-size="12.5" fill="#ff0080">1020</text>
<text transform="translate(691.50,192.50) scale(0.865,1)" font-size="12.5" fill="#ff0080">1022</text>
<text transform="translate(691.50,176.50) scale(0.865,1)" font-size="12.5" fill="#ff0080">1024</text>
<text transform="translate(691.50,160.50) scale(0.865,1)" font-size="12.5" fill="#ff0080">1026</text>
<text transform="translate(691.50,143.50) scale(0.865,1)" font-size="12.5" fill="#ff0080">1028</text>
<text transform="translate(691.50,127.50) scale(0.865,1)" font-size="12.5" fill="#ff0080">1030</text>
<text transform="translate(691.50,110.50) scale(0.865,1)" font-size="12.5" fill="#ff0080">1032</text>
<text transform="translate(691.50,94.50) scale(0.865,1)" font-size="12.5" fill="#ff0080">1034</text>
<text transform="translate(685.00,79.00) scale(0.865,1)" font-size="12.5" fill="#ff0080">hPa</text>
<text transform="translate(728.50,504.50) scale(0.865,1)" font-size="12.5" fill="#000">0.0</text>
<text transform="translate(728.50,470.50) scale(0.865,1)" font-size="12.5" fill="#000">5.0</text>
<text transform="translate(728.50,436.50) scale(0.865,1)" font-size="12.5" fill="#000">10.0</text>
<text transform="translate(728.50,402.50) scale(0.865,1)" font-size="12.5" fill="#000">15.0</text>
<text transform="translate(728.50,367.50) scale(0.865,1)" font-size="12.5" fill="#000">20.0</text>
<text transform="translate(728.50,333.50) scale(0.865,1)" font-size="12.5" fill="#000">25.0</text>
<text transform="translate(728.50,299.50) scale(0.865,1)" font-size="12.5" fill="#000">30.0</text>
<text transform="translate(728.50,265.50) scale(0.865,1)" font-size="12.5" fill="#000">35.0</text>
<text transform="translate(728.50,231.50) scale(0.865,1)" font-size="12.5" fill="#000">40.0</text>
<text transform="translate(728.50,196.50) scale(0.865,1)" font-size="12.5" fill="#000">45.0</text>
<text transform="translate(728.50,162.50) scale(0.865,1)" font-size="12.5" fill="#000">50.0</text>
<text transform="translate(728.50,128.50) scale(0.865,1)" font-size="12.5" fill="#000">55.0</text>
<text transform="translate(728.50,94.50) scale(0.865,1)" font-size="12.5" fill="#000">60.0</text>
<text transform="translate(722.00,79.00) scale(0.865,1)" font-size="12.5" fill="#000">km/h</text>
<text transform="translate(765.50,504.50) scale(0.865,1)" font-size="12.5" fill="#ff8000">0</text>
<text transform="translate(765.50,463.50) scale(0.865,1)" font-size="12.5" fill="#ff8000">10</text>
<text transform="translate(765.50,422.50) scale(0.865,1)" font-size="12.5" fill="#ff8000">20</text>
<text transform="translate(765.50,381.50) scale(0.865,1)" font-size="12.5" fill="#ff8000">30</text>
<text transform="translate(765.50,340.50) scale(0.865,1)" font-size="12.5" fill="#ff8000">40</text>
<text transform="translate(765.50,299.50) scale(0.865,1)" font-size="12.5" fill="#ff8000">50</text>
<text transform="translate(765.50,258.50) scale(0.865,1)" font-size="12.5" fill="#ff8000">60</text>
<text transform="translate(765.50,217.50) scale(0.865,1)" font-size="12.5" fill="#ff8000">70</text>
<text transform="translate(765.50,176.50) scale(0.865,1)" font-size="12.5" fill="#ff8000">80</text>
<text transform="translate(765.50,135.50) scale(0.865,1)" font-size="12.5" fill="#ff8000">90</text>
<text transform="translate(765.50,94.50) scale(0.865,1)" font-size="12.5" fill="#ff8000">100</text>
<text transform="translate(759.00,79.00) scale(0.865,1)" font-size="12.5" fill="#ff8000">h</text>
<text transform="translate(802.50,504.50) scale(0.865,1)" font-size="12.5" fill="#ffa07a">0</text>
<text transform="translate(802.50,484.50) scale(0.865,1)" font-size="12.5" fill="#ffa07a">50</text>
<text transform="translate(802.50,463.50) scale(0.865,1)" font-size="12.5" fill="#ffa07a">100</text>
<text transform="translate(802.50,442.50) scale(0.865,1)" font-size="12.5" fill="#ffa07a">150</text>
<text transform="translate(802.50,422.50) scale(0.865,1)" font-size="12.5" fill="#ffa07a">200</text>
<text transform="translate(802.50,402.50) scale(0.865,1)" font-size="12.5" fill="#ffa07a">250</text>
<text transform="translate(802.50,381.50) scale(0.865,1)" font-size="12.5" fill="#ffa07a">300</text>
<text transform="translate(802.50,360.50) scale(0.865,1)" font-size="12.5" fill="#ffa07a">350</text>
<text transform="translate(802.50,340.50) scale(0.865,1)" font-size="12.5" fill="#ffa07a">400</text>
<text transform="translate(802.50,320.50) scale(0.865,1)" font-size="12.5" fill="#ffa07a">450</text>
<text transform="translate(802.50,299.50) scale(0.865,1)" font-size="12.5" fill="#ffa07a">500</text>
<text transform="translate(802.50,278.50) scale(0.865,1)" font-size="12.5" fill="#ffa07a">550</text>
<text transform="translate(802.50,258.50) scale(0.865,1)" font-size="12.5" fill="#ffa07a">600</text>
<text transform="translate(802.50,238.50) scale(0.865,1)" font-size="12.5" fill="#ffa07a">650</text>
<text transform="translate(802.50,217.50) scale(0.865,1)" font-size="12.5" fill="#ffa07a">700</text>
<text transform="translate(802.50,196.50) scale(0.865,1)" font-size="12.5" fill="#ffa07a">750</text>
<text transform="translate(802.50,176.50) scale(0.865,1)" font-size="12.5" fill="#ffa07a">800</text>
<text transform="translate(802.50,156.50) scale(0.865,1)" font-size="12.5" fill="#ffa07a">850</text>
<text transform="translate(802.50,135.50) scale(0.865,1)" font-size="12.5" fill="#ffa07a">900</text>
<text transform="translate(802.50,114.50) scale(0.865,1)" font-size="12.5" fill="#ffa07a">950</text>
<text transform="translate(802.50,94.50) scale(0.865,1)" font-size="12.5" fill="#ffa07a">1000</text>
<text transform="translate(796.00,79.00) scale(0.865,1)" font-size="12.5" fill="#ffa07a">W/m²</text>
<text transform="translate(188.50,519.00) scale(0.865,1)" font-size="12.5" fill="#000" text-anchor="middle">1</text>
<text transform="translate(203.50,519.00) scale(0.865,1)" font-size="12.5" fill="#000" text-anchor="middle">2</text>
<text transform="translate(219.50,519.00) scale(0.865,1)" font-size="12.5" fill="#000" text-anchor="middle">3</text>
<text transform="translate(234.50,519.00) scale(0.865,1)" font-size="12.5" fill="#000" text-anchor="middle">4</text>
<text transform="translate(249.50,519.00) scale(0.865,1)" font-size="12.5" fill="#000" text-anchor="middle">5</text>
<text transform="translate(265.50,519.00) scale(0.865,1)" font-size="12.5" fill="#000" text-anchor="middle">6</text>
<text transform="translate(280.50,519.00) scale(0.865,1)" font-size="12.5" fill="#000" text-anchor="middle">7</text>
<text transform="translate(295.50,519.00) scale(0.865,1)" font-size="12.5" fill="#000" text-anchor="middle">8</text>
<text transform="translate(311.50,519.00) scale(0.865,1)" font-size="12.5" fill="#000" text-anchor="middle">9</text>
<text transform="translate(326.50,519.00) scale(0.865,1)" font-size="12.5" fill="#000" text-anchor="middle">10</text>
<text transform="translate(341.50,519.00) scale(0.865,1)" font-size="12.5" fill="#000" text-anchor="middle">11</text>
<text transform="translate(357.50,519.00) scale(0.865,1)" font-size="12.5" fill="#000" text-anchor="middle">12</text>
<text transform="translate(372.50,519.00) scale(0.865,1)" font-size="12.5" fill="#000" text-anchor="middle">13</text>
<text transform="translate(387.50,519.00) scale(0.865,1)" font-size="12.5" fill="#000" text-anchor="middle">14</text>
<text transform="translate(403.50,519.00) scale(0.865,1)" font-size="12.5" fill="#000" text-anchor="middle">15</text>
<text transform="translate(418.50,519.00) scale(0.865,1)" font-size="12.5" fill="#000" text-anchor="middle">16</text>
<text transform="translate(433.50,519.00) scale(0.865,1)" font-size="12.5" fill="#000" text-anchor="middle">17</text>
<text transform="translate(449.50,519.00) scale(0.865,1)" font-size="12.5" fill="#000" text-anchor="middle">18</text>
<text transform="translate(464.50,519.00) scale(0.865,1)" font-size="12.5" fill="#000" text-anchor="middle">19</text>
<text transform="translate(479.50,519.00) scale(0.865,1)" font-size="12.5" fill="#000" text-anchor="middle">20</text>
<text transform="translate(495.50,519.00) scale(0.865,1)" font-size="12.5" fill="#000" text-anchor="middle">21</text>
<text transform="translate(510.50,519.00) scale(0.865,1)" font-size="12.5" fill="#000" text-anchor="middle">22</text>
<text transform="translate(525.50,519.00) scale(0.865,1)" font-size="12.5" fill="#000" text-anchor="middle">23</text>
<text transform="translate(541.50,519.00) scale(0.865,1)" font-size="12.5" fill="#000" text-anchor="middle">24</text>
<text transform="translate(556.50,519.00) scale(0.865,1)" font-size="12.5" fill="#000" text-anchor="middle">25</text>
<text transform="translate(571.50,519.00) scale(0.865,1)" font-size="12.5" fill="#000" text-anchor="middle">26</text>
<text transform="translate(587.50,519.00) scale(0.865,1)" font-size="12.5" fill="#000" text-anchor="middle">27</text>
<text transform="translate(602.50,519.00) scale(0.865,1)" font-size="12.5" fill="#000" text-anchor="middle">28</text>
<text transform="translate(617.50,519.00) scale(0.865,1)" font-size="12.5" fill="#000" text-anchor="middle">29</text>
<text transform="translate(633.50,519.00) scale(0.865,1)" font-size="12.5" fill="#000" text-anchor="middle">30</text>
<text transform="translate(648.50,519.00) scale(0.865,1)" font-size="12.5" fill="#000" text-anchor="middle">31</text>
<text transform="translate(9.00,551.50) scale(0.93,1)" font-size="12.5" fill="#000" font-weight="bold">Sensor</text>
<text transform="translate(9.00,567.50) scale(0.93,1)" font-size="12.5" fill="#000" font-weight="bold">MinWert</text>
<text transform="translate(9.00,583.50) scale(0.93,1)" font-size="12.5" fill="#000" font-weight="bold">MaxWert</text>
<text transform="translate(9.00,599.50) scale(0.93,1)" font-size="12.5" fill="#000" font-weight="bold">Durchschnitt</text>
<text transform="translate(9.00,615.50) scale(0.93,1)" font-size="12.5" fill="#000" font-weight="bold">31.10.</text>
<text transform="translate(95.00,551.50) scale(0.93,1)" font-size="12.5" fill="#000" font-weight="bold" word-spacing="1.6">T- 2m aktiv</text>
<text transform="translate(199.00,551.50) scale(0.93,1)" font-size="12.5" fill="#000" text-anchor="end" font-weight="bold">°C</text>
<text transform="translate(95.00,567.50) scale(0.865,1)" font-size="12.5" fill="#000">31.10.  07:20</text>
<text transform="translate(199.00,567.50) scale(0.865,1)" font-size="12.5" fill="#000" text-anchor="end">3.4</text>
<text transform="translate(95.00,583.50) scale(0.865,1)" font-size="12.5" fill="#000">08.10.  15:35</text>
<text transform="translate(199.00,583.50) scale(0.865,1)" font-size="12.5" fill="#000" text-anchor="end">19.4</text>
<text transform="translate(101.00,599.50) scale(0.865,1)" font-size="12.5" fill="#000">(+ 1.21 )</text>
<text transform="translate(199.00,599.50) scale(0.865,1)" font-size="12.5" fill="#000" text-anchor="end">12.11</text>
<text transform="translate(199.60,615.50) scale(0.93,1)" font-size="12.5" fill="#000" text-anchor="end" font-weight="bold">8.8</text>
<text transform="translate(213.00,551.50) scale(0.93,1)" font-size="12.5" fill="#000" font-weight="bold" word-spacing="1.6">F- 2m aktiv</text>
<text transform="translate(317.00,551.50) scale(0.93,1)" font-size="12.5" fill="#000" text-anchor="end" font-weight="bold">%</text>
<text transform="translate(213.00,567.50) scale(0.865,1)" font-size="12.5" fill="#000">01.10.  16:20</text>
<text transform="translate(317.00,567.50) scale(0.865,1)" font-size="12.5" fill="#000" text-anchor="end">47</text>
<text transform="translate(213.00,583.50) scale(0.865,1)" font-size="12.5" fill="#000">22.10.  10:35</text>
<text transform="translate(317.00,583.50) scale(0.865,1)" font-size="12.5" fill="#000" text-anchor="end">95</text>
<text transform="translate(317.00,599.50) scale(0.865,1)" font-size="12.5" fill="#000" text-anchor="end">82</text>
<text transform="translate(215.00,615.50) scale(0.865,1)" font-size="12.5" fill="#000">7.29 g/m³</text>
<text transform="translate(317.60,615.50) scale(0.93,1)" font-size="12.5" fill="#000" text-anchor="end" font-weight="bold">84</text>
<text transform="translate(331.00,551.50) scale(0.93,1)" font-size="12.5" fill="#000" font-weight="bold">Luftdruck</text>
<text transform="translate(435.00,551.50) scale(0.93,1)" font-size="12.5" fill="#000" text-anchor="end" font-weight="bold">hPa</text>
<text transform="translate(331.00,567.50) scale(0.865,1)" font-size="12.5" fill="#000">23.10.  08:35</text>
<text transform="translate(435.00,567.50) scale(0.865,1)" font-size="12.5" fill="#000" text-anchor="end">985.2</text>
<text transform="translate(331.00,583.50) scale(0.865,1)" font-size="12.5" fill="#000">11.10.  09:55</text>
<text transform="translate(435.00,583.50) scale(0.865,1)" font-size="12.5" fill="#000" text-anchor="end">1032.9</text>
<text transform="translate(435.00,599.50) scale(0.865,1)" font-size="12.5" fill="#000" text-anchor="end">1015.3</text>
<text transform="translate(435.60,615.50) scale(0.93,1)" font-size="12.5" fill="#000" text-anchor="end" font-weight="bold">1013.6</text>
<text transform="translate(449.00,551.50) scale(0.93,1)" font-size="12.5" fill="#000" font-weight="bold">Windböen</text>
<text transform="translate(553.00,551.50) scale(0.93,1)" font-size="12.5" fill="#000" text-anchor="end" font-weight="bold">km/h</text>
<text transform="translate(449.00,567.50) scale(0.865,1)" font-size="12.5" fill="#000">01.10.  00:05</text>
<text transform="translate(553.00,567.50) scale(0.865,1)" font-size="12.5" fill="#000" text-anchor="end">0.0</text>
<text clip-path="url(#cl)" transform="translate(449.00,583.50) scale(0.865,1)" font-size="12.5" fill="#000">23.10.  15:45</text>
<text transform="translate(553.00,583.50) scale(0.865,1)" font-size="12.5" fill="#000" text-anchor="end">S-SO 37.0</text>
<text transform="translate(553.00,599.50) scale(0.865,1)" font-size="12.5" fill="#000" text-anchor="end">4.6</text>
<text transform="translate(455.00,615.50) scale(0.865,1)" font-size="12.5" fill="#000">0 Bft S-SO</text>
<text transform="translate(553.60,615.50) scale(0.93,1)" font-size="12.5" fill="#000" text-anchor="end" font-weight="bold">0.2</text>
<text transform="translate(567.00,551.50) scale(0.93,1)" font-size="12.5" fill="#000" font-weight="bold">Regen</text>
<text transform="translate(671.00,551.50) scale(0.93,1)" font-size="12.5" fill="#000" text-anchor="end" font-weight="bold">l/m²</text>
<text transform="translate(567.00,567.50) scale(0.865,1)" font-size="12.5" fill="#000">Regentage: 29</text>
<text transform="translate(567.00,583.50) scale(0.865,1)" font-size="12.5" fill="#000">22.10.  19:35</text>
<text transform="translate(671.00,583.50) scale(0.865,1)" font-size="12.5" fill="#000" text-anchor="end">12.8</text>
<text transform="translate(567.00,599.50) scale(0.865,1)" font-size="12.5" fill="#000">Gesamt:</text>
<text transform="translate(671.00,599.50) scale(0.865,1)" font-size="12.5" fill="#000" text-anchor="end">57.4</text>
<text transform="translate(570.00,615.50) scale(0.865,1)" font-size="12.5" fill="#000">57.4 l/m²</text>
<text transform="translate(671.60,615.50) scale(0.93,1)" font-size="12.5" fill="#000" text-anchor="end" font-weight="bold">0.0</text>
<text transform="translate(685.00,551.50) scale(0.93,1)" font-size="12.5" fill="#000" font-weight="bold">PMV+1:10</text>
<text transform="translate(685.00,567.50) scale(0.865,1)" font-size="12.5" fill="#000">WC 8.8 °C</text>
<text transform="translate(685.00,583.50) scale(0.865,1)" font-size="12.5" fill="#000">TP 6.2 °C</text>
</g>
</svg>
</body></html>
